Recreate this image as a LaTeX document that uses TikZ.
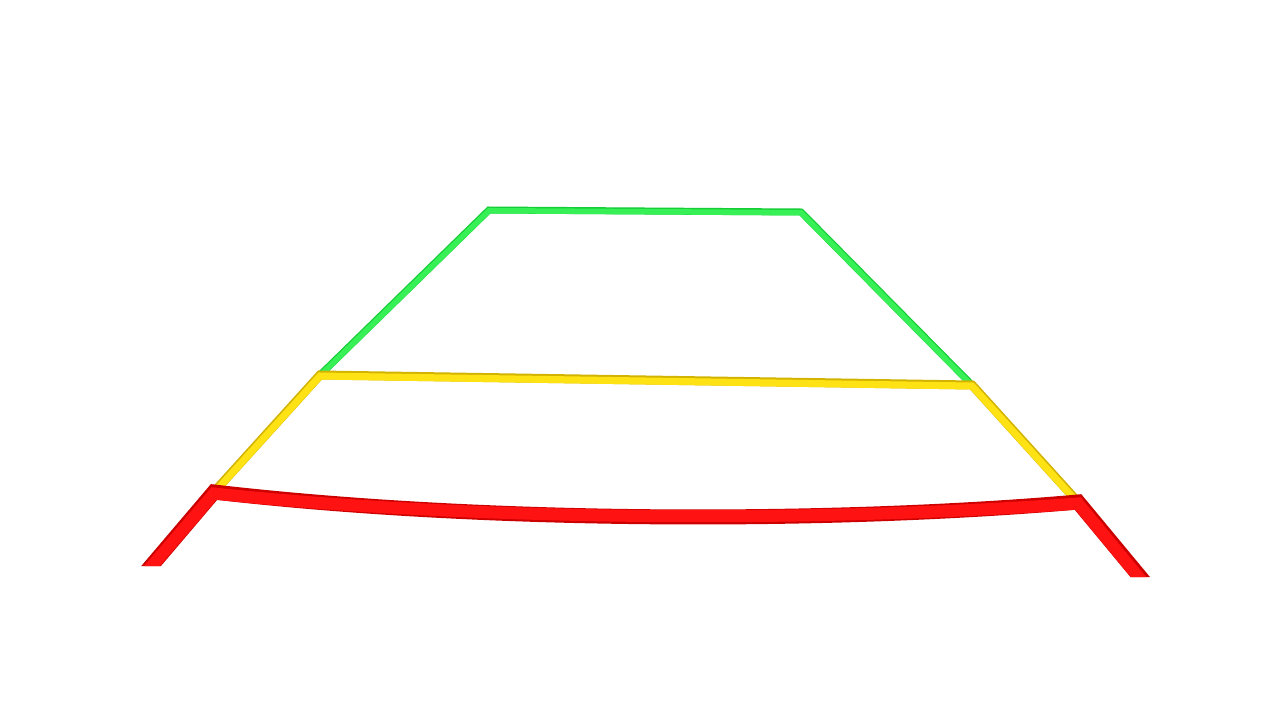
\documentclass[tikz,border=0pt]{standalone}
\begin{document}
\begin{tikzpicture}[x=1pt,y=-1pt,
  greenline/.style={draw=guideGreenDark,line width=7pt,line join=miter},
  greenhi/.style={draw=guideGreen,line width=5.5pt,line join=miter},
  yellowline/.style={draw=guideYellowDark,line width=9pt,line join=miter},
  yellowhi/.style={draw=guideYellow,line width=7pt,line join=miter},
  redline/.style={draw=guideRedDark,line width=15pt,line join=miter},
  redhi/.style={draw=guideRed,line width=12pt,line join=miter}]
\definecolor{guideGreenDark}{RGB}{20,205,55}
\definecolor{guideGreen}{RGB}{55,240,85}
\definecolor{guideYellowDark}{RGB}{210,180,0}
\definecolor{guideYellow}{RGB}{255,226,20}
\definecolor{guideRedDark}{RGB}{205,0,0}
\definecolor{guideRed}{RGB}{255,18,18}
\useasboundingbox[fill=white] (0,0) rectangle (1280,720);
% named points
\coordinate (gl) at (320,375);
\coordinate (gtl) at (489,210);
\coordinate (gtr) at (801,212);
\coordinate (gr) at (972,385);
\coordinate (yl) at (214,492);
\coordinate (yr) at (1078,502);
\coordinate (rlb) at (146,572);
\coordinate (rrb) at (1146,584);
% green
\draw[greenline] (gl) -- (gtl) -- (gtr) -- (gr);
\draw[greenhi] ([yshift=-0.7pt]gl) -- ([yshift=-0.7pt]gtl) -- ([yshift=-0.7pt]gtr) -- ([yshift=-0.7pt]gr);
% yellow
\draw[yellowline] (yl) -- (gl) -- (gr) -- (yr);
\draw[yellowhi] ([yshift=-1pt]yl) -- ([yshift=-1pt]gl) -- ([yshift=-1pt]gr) -- ([yshift=-1pt]yr);
% red
\begin{scope}
\clip (0,0) -- (1280,0) -- (1280,577) -- (640,577) -- (640,566) -- (0,566) -- cycle;
\draw[redline] (rlb) -- (yl) .. controls (500,525) and (850,522) .. (yr) -- (rrb);
\draw[redhi] ([xshift=-0.5pt,yshift=-1.5pt]rlb) -- ([yshift=-1.5pt]yl) .. controls (500,523.5) and (850,520.5) .. ([yshift=-1.5pt]yr) -- ([xshift=-0.5pt,yshift=-1.5pt]rrb);
\end{scope}
\end{tikzpicture}
\end{document}
